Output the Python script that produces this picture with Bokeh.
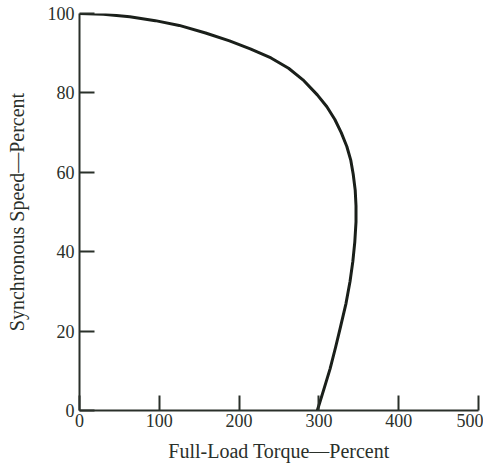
from bokeh.plotting import figure
from bokeh.embed import file_html
from bokeh.resources import INLINE
from bokeh.models import FixedTicker

torque = [0, 30, 63, 95, 125, 158, 188, 214, 240, 262, 280, 298, 310, 320, 328, 335, 340, 343, 345.5, 346.5, 346.5, 345, 342.5, 339, 334, 327, 321, 314, 306, 298]
speed = [100, 99.8, 99.2, 98.2, 97.0, 95.1, 93.1, 91.1, 88.8, 86.2, 83.3, 79.5, 76.5, 73.3, 70.0, 66.5, 63.0, 59.5, 55.5, 51.5, 47.5, 42.5, 37.5, 32.5, 27, 21, 16, 10.5, 5.2, 0]

x_ticks = [0, 100, 200, 300, 400, 500]
y_ticks = [0, 20, 40, 60, 80, 100]

p = figure(width=483, height=465, x_range=(0, 500), y_range=(0, 100),
           output_backend="svg", toolbar_location=None,
           min_border_left=79, min_border_right=5, min_border_top=13, min_border_bottom=55)
p.outline_line_color = None
p.xgrid.visible = False
p.ygrid.visible = False
p.background_fill_color = "white"

p.line(torque, speed, line_width=3, line_color="#1a1f1a", line_join="round")

for ax, ticks, lab in ((p.xaxis[0], x_ticks, "Full-Load Torque\u2014Percent"),
                       (p.yaxis[0], y_ticks, "Synchronous Speed\u2014Percent")):
    ax.ticker = FixedTicker(ticks=ticks)
    ax.axis_label = lab
    ax.axis_line_width = 2
    ax.axis_line_color = "#2a302a"
    ax.major_tick_in = 15
    ax.major_tick_out = 0
    ax.major_tick_line_width = 2
    ax.major_tick_line_color = "#2a302a"
    ax.minor_tick_line_color = None
    ax.major_label_text_font = "Liberation Serif"
    ax.major_label_text_font_size = "18px"
    ax.major_label_text_color = "#2a302a"
    ax.axis_label_text_font = "Liberation Serif"
    ax.axis_label_text_font_size = "20px"
    ax.axis_label_text_font_style = "normal"
    ax.axis_label_text_color = "#2a302a"

p.xaxis.major_label_standoff = 3
p.xaxis.axis_label_standoff = 10
p.yaxis.major_label_standoff = 5
p.yaxis.axis_label_standoff = 17

open("out.html", "w").write(file_html(p, INLINE))
